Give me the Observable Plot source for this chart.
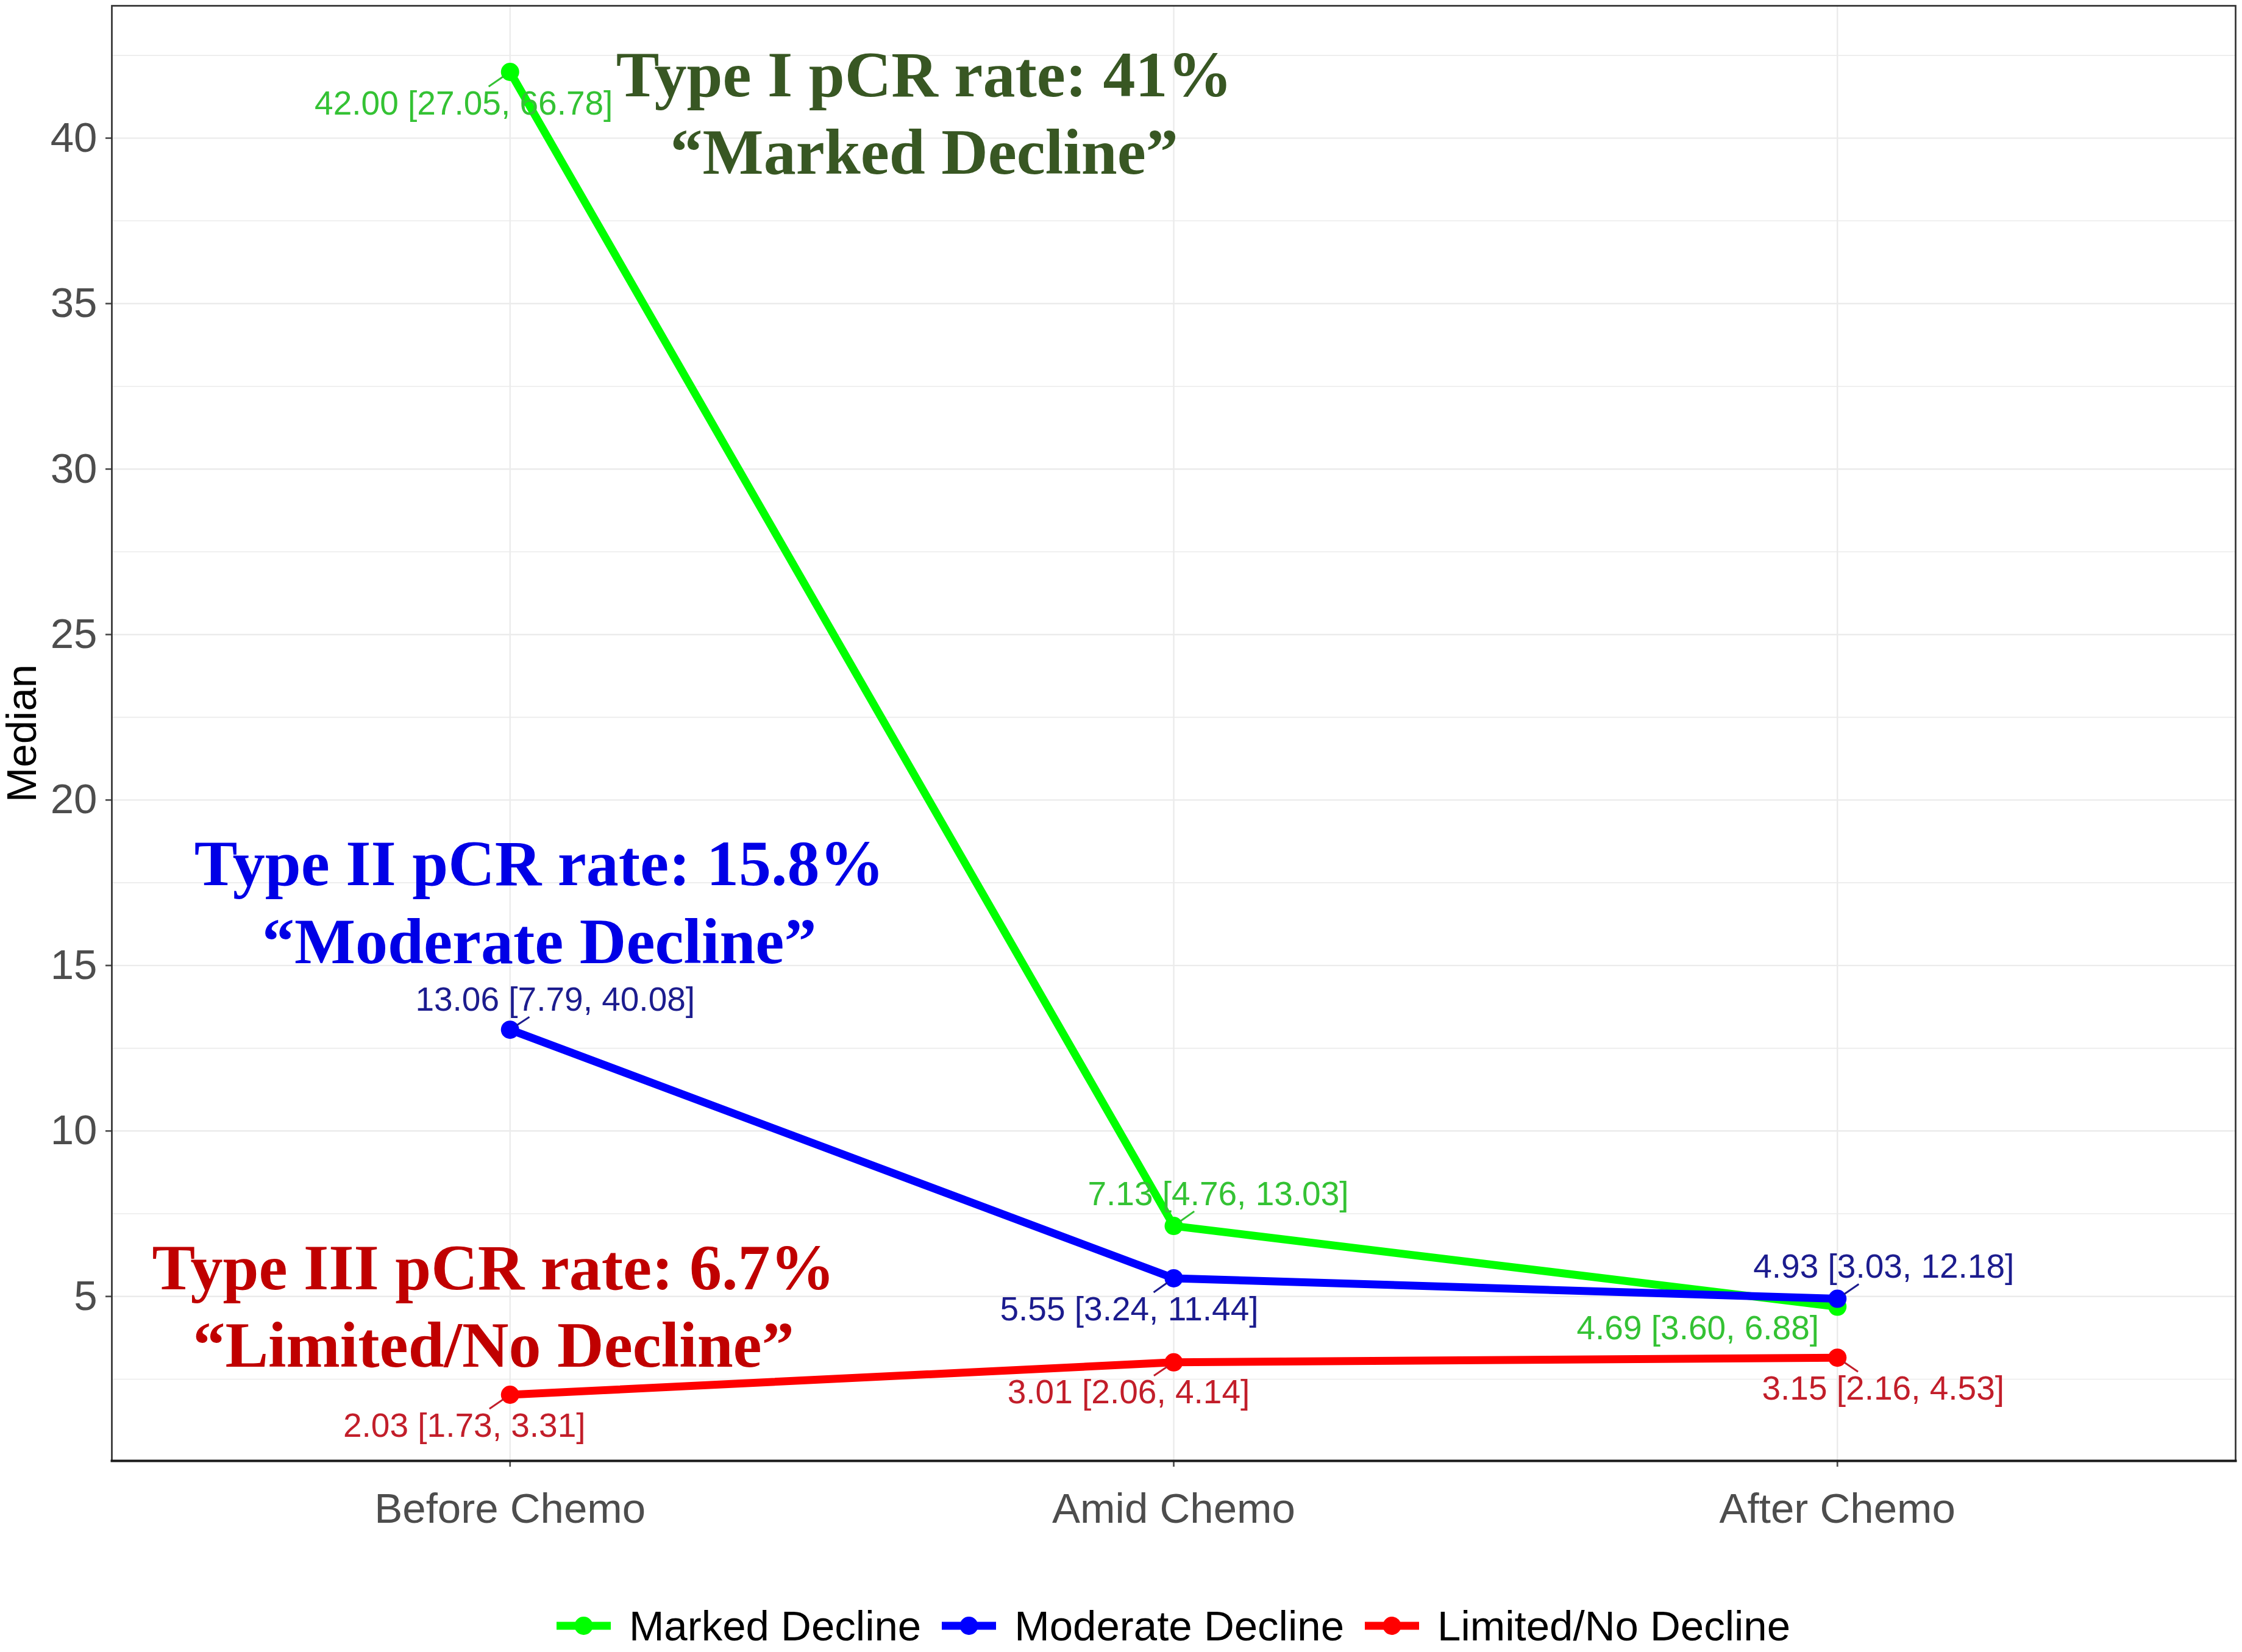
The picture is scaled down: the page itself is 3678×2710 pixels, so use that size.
<!DOCTYPE html>
<html>
<head>
<meta charset="utf-8">
<script src="https://cdn.jsdelivr.net/npm/d3@7"></script>
<script src="https://cdn.jsdelivr.net/npm/@observablehq/plot@0.6"></script>
<style>
  body { margin: 0; background: #fff; }
  #chart svg { display: block; }
  #legend {
    width: 3678px; box-sizing: border-box;
    padding-left: 183px; padding-right: 11px;
    margin-top: 67px; height: 80px;
    display: flex; justify-content: center; align-items: center;
    font-family: "Liberation Sans", Arial, sans-serif; font-size: 69px; color: #000;
  }
  .item { display: flex; align-items: center; margin: 0 17px; }
  .item svg { margin-right: 30px; }
</style>
</head>
<body>
<div id="chart"></div>
<div id="legend"></div>
<script>
// ---------------- data ----------------
const timepoints = ["Before Chemo", "Amid Chemo", "After Chemo"];
const groups = ["Marked Decline", "Moderate Decline", "Limited/No Decline"];

const markedMedian   = [42.00, 7.13, 4.69];
const markedQ1       = [27.05, 4.76, 3.60];
const markedQ3       = [66.78, 13.03, 6.88];

const moderateMedian = [13.06, 5.55, 4.93];
const moderateQ1     = [7.79, 3.24, 3.03];
const moderateQ3     = [40.08, 11.44, 12.18];

const limitedMedian  = [2.03, 3.01, 3.15];
const limitedQ1      = [1.73, 2.06, 2.16];
const limitedQ3      = [3.31, 4.14, 4.53];

const yTicks = [5, 10, 15, 20, 25, 30, 35, 40];
const yMinorTicks = [2.5, 7.5, 12.5, 17.5, 22.5, 27.5, 32.5, 37.5, 42.5];

const annoLine1 = ["Type I pCR rate: 41%", "Type II pCR rate: 15.8%", "Type III pCR rate: 6.7%"];
const annoLine2 = ["\u201CMarked Decline\u201D", "\u201CModerate Decline\u201D", "\u201CLimited/No Decline\u201D"];
const annoX = [1.624, 1.044, 0.975];
const annoY = [40.85, 17.0, 4.8];

// ---------------- styling / layout ----------------
const W = 3678, H = 2560, mL = 183, mR = 11, mT = 9, mB = 164;
const lineColors  = ["#00ff00", "#0000ff", "#ff0000"];
const labelColors = ["#34c234", "#1c1c8e", "#c21e2a"];
const annoColors  = ["#385723", "#0000e6", "#c00000"];
const sans = "'Liberation Sans', Arial, sans-serif";
const serif = "'Liberation Serif', 'Times New Roman', serif";
const labelFont = 55;

// label placement (ggrepel-like offsets in pixels from each point)
const labelOffsets = [
  [[-76, 52], [73, -52], [-229, 36]],
  [[74, -49], [-73, 51], [76, -52]],
  [[-75, 51], [-74, 50], [75, 51]]
];
const segmentShown = [
  [true, true, false],
  [true, true, true],
  [true, true, true]
];

const medians = [markedMedian, moderateMedian, limitedMedian];
const q1s = [markedQ1, moderateQ1, limitedQ1];
const q3s = [markedQ3, moderateQ3, limitedQ3];

const allVals = medians.flat();
const lo = d3.min(allVals), hi = d3.max(allVals);
const yDomain = [lo - 0.05 * (hi - lo), hi + 0.05 * (hi - lo)];
const xDomain = [1 - 0.6, timepoints.length + 0.6];

const xs = Plot.scale({x: {type: "linear", domain: xDomain, range: [mL, W - mR]}});
const ys = Plot.scale({y: {type: "linear", domain: yDomain, range: [H - mB, mT]}});

function textWidth(s, size) {
  let w = 0;
  for (const c of s) w += (/[0-9]/.test(c) ? 0.556 : 0.278);
  return w * size;
}

const fmt = v => v.toFixed(2);
const rowsByGroup = groups.map((g, gi) => timepoints.map((t, i) => ({
  group: g, xi: i + 1, median: medians[gi][i],
  label: `${fmt(medians[gi][i])} [${fmt(q1s[gi][i])}, ${fmt(q3s[gi][i])}]`
})));

const labelRows = [], segRows = [];
rowsByGroup.forEach((rows, gi) => rows.forEach((d, i) => {
  const px = xs.apply(d.xi), py = ys.apply(d.median);
  const [ox, oy] = labelOffsets[gi][i];
  const cx = px + ox, cy = py + oy;
  labelRows.push({gi, lx: xs.invert(cx), ly: ys.invert(cy), label: d.label});
  if (segmentShown[gi][i]) {
    const hw = textWidth(d.label, labelFont) / 2 + 4, hh = 28;
    const ddx = px - cx, ddy = py - cy;
    const t = Math.min(ddx ? hw / Math.abs(ddx) : Infinity, ddy ? hh / Math.abs(ddy) : Infinity);
    if (t < 1) {
      const ex = cx + ddx * t, ey = cy + ddy * t;
      const len = Math.hypot(ex - px, ey - py);
      const sx = px + (ex - px) / len * 13, sy = py + (ey - py) / len * 13;
      segRows.push({gi, x1: xs.invert(sx), y1: ys.invert(sy), x2: xs.invert(ex), y2: ys.invert(ey)});
    }
  }
}));

const annoRows = annoLine1.map((t, i) => ({i, text: t + "\n" + annoLine2[i], x: annoX[i], y: annoY[i]}));

const marks = [
  Plot.gridY(yMinorTicks, {stroke: "#ebebeb", strokeOpacity: 1, strokeWidth: 1.6}),
  Plot.gridY(yTicks, {stroke: "#ebebeb", strokeOpacity: 1, strokeWidth: 2.4}),
  Plot.gridX([1, 2, 3], {stroke: "#ebebeb", strokeOpacity: 1, strokeWidth: 2.4}),
  Plot.axisY(yTicks, {tickFormat: d => String(d), tickSize: 10, tickPadding: 14, fontSize: 69,
                      color: "#4d4d4d", strokeWidth: 2.7, label: null}),
  Plot.axisX([1, 2, 3], {tickFormat: d => timepoints[d - 1], tickSize: 10, tickPadding: 42, fontSize: 69,
                         color: "#4d4d4d", strokeWidth: 2.7, label: null}),
  Plot.frame({stroke: "#333333", strokeWidth: 2.7}),
  Plot.frame({anchor: "bottom", stroke: "#1a1a1a", strokeWidth: 4}),
  Plot.text(["Median"], {text: d => d, frameAnchor: "left", rotate: -90, dx: -147,
                         textAnchor: "middle", lineAnchor: "middle", fontSize: 69, fill: "#000"})
];

rowsByGroup.forEach((rows, gi) => {
  marks.push(Plot.line(rows, {x: "xi", y: "median", stroke: lineColors[gi], strokeWidth: 13,
                              strokeLinejoin: "round", strokeLinecap: "butt"}));
});
rowsByGroup.forEach((rows, gi) => {
  marks.push(Plot.dot(rows, {x: "xi", y: "median", fill: lineColors[gi], r: 15, stroke: "none"}));
});
groups.forEach((g, gi) => {
  marks.push(Plot.link(segRows.filter(d => d.gi === gi), {x1: "x1", y1: "y1", x2: "x2", y2: "y2",
                        stroke: labelColors[gi], strokeWidth: 3}));
  marks.push(Plot.text(labelRows.filter(d => d.gi === gi), {x: "lx", y: "ly", text: "label",
                        fontSize: labelFont, fill: labelColors[gi], fontFamily: sans}));
});
annoRows.forEach((d, i) => {
  marks.push(Plot.text([d], {x: "x", y: "y", text: "text", fontFamily: serif, fontWeight: "bold",
                              fontSize: 106, lineHeight: 1.2, fill: annoColors[i]}));
});

const chart = Plot.plot({
  width: W, height: H,
  marginLeft: mL, marginRight: mR, marginTop: mT, marginBottom: mB,
  x: {type: "linear", domain: xDomain},
  y: {type: "linear", domain: yDomain},
  style: {fontFamily: sans, background: "#fff", overflow: "visible"},
  marks
});
document.getElementById("chart").appendChild(chart);

// ---------------- legend ----------------
const legend = document.getElementById("legend");
groups.forEach((g, gi) => {
  const item = document.createElement("div");
  item.className = "item";
  item.innerHTML = `<svg width="89" height="40" viewBox="0 0 89 40">
      <line x1="0" y1="20" x2="89" y2="20" stroke="${lineColors[gi]}" stroke-width="13"/>
      <circle cx="44.5" cy="20" r="15" fill="${lineColors[gi]}"/></svg><span>${g}</span>`;
  legend.appendChild(item);
});
</script>
</body>
</html>
